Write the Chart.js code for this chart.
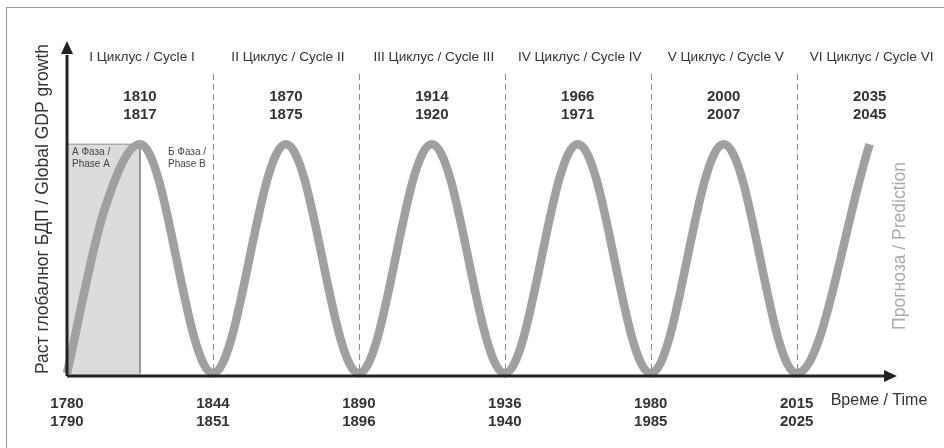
<!DOCTYPE html>
<html>
<head>
<meta charset="utf-8">
<script src="https://cdn.jsdelivr.net/npm/chart.js@4"></script>
<style>
  html, body { margin: 0; padding: 0; background: #fff; }
  #wrap { width: 944px; height: 448px; position: relative; }
</style>
</head>
<body>
<div id="wrap"><canvas id="kw-chart"></canvas></div>
<script>
// cycles in "cycle units": trough n at x = n, peak at x = n + 0.5
const cycleTitles = ['I Циклус / Cycle I', 'II Циклус / Cycle II', 'III Циклус / Cycle III',
    'IV Циклус / Cycle IV', 'V Циклус / Cycle V', 'VI Циклус / Cycle VI'];
const peakYears = [['1810', '1817'], ['1870', '1875'], ['1914', '1920'],
    ['1966', '1971'], ['2000', '2007'], ['2035', '2045']];
const troughYears = [['1780', '1790'], ['1844', '1851'], ['1890', '1896'],
    ['1936', '1940'], ['1980', '1985'], ['2015', '2025']];
const cycleBounds = [1, 2, 3, 4, 5];

// main wave, peaks and troughs (first rise is drawn by the phase A curve)
const waveX = [0, 0.5, 1, 1.5, 2, 2.5, 3, 3.5, 4, 4.5, 5, 5.5];
const waveY = [0, 1, 0, 1, 0, 1, 0, 1, 0, 1, 0, 1];
// first rise (phase A of cycle I), steeper start
const riseX = [0, 0.25, 0.5, 1];
const riseY = [0, 0.7, 1, 0];

const phaseBoxX = [0, 0.5, 0.5];
const phaseBoxY = [1, 1, 0];

const axisTitleY = 'Раст глобалног БДП / Global GDP growth';
const axisTitleX = 'Време / Time';
const predictionLabel = 'Прогноза / Prediction';
const phaseA = ['А Фаза /', 'Phase A'];
const phaseB = ['Б Фаза /', 'Phase B'];

const FONT = '"Liberation Sans", Arial, sans-serif';
const WAVE_COLOR = '#a0a0a0';
const HIDDEN = 'rgba(0,0,0,0)';

const toPoints = function (xs, ys) {
    return xs.map((x, i) => ({x: x, y: ys[i]}));
};

const decorations = {
    id: 'decorations',
    beforeDraw(chart) {
        const c = chart.ctx;
        c.save();
        c.fillStyle = '#fff';
        c.fillRect(0, 0, chart.width, chart.height);
        // frame
        c.strokeStyle = '#9a9a9a';
        c.lineWidth = 1;
        c.beginPath();
        c.moveTo(6.5, chart.height);
        c.lineTo(6.5, 7.5);
        c.lineTo(chart.width, 7.5);
        c.stroke();
        c.restore();
    },
    afterDatasetsDraw(chart) {
        const c = chart.ctx;
        const xs = chart.scales.x;
        const ys = chart.scales.y;
        const area = chart.chartArea;
        const base = area.bottom;

        c.save();
        // dashed cycle boundaries
        c.strokeStyle = '#8a8a8a';
        c.lineWidth = 1;
        c.setLineDash([6, 4]);
        cycleBounds.forEach(b => {
            const px = Math.round(xs.getPixelForValue(b)) + 0.5;
            c.beginPath();
            c.moveTo(px, 74);
            c.lineTo(px, base);
            c.stroke();
        });
        c.setLineDash([]);

        // axes
        c.strokeStyle = '#222';
        c.fillStyle = '#222';
        c.lineWidth = 3;
        c.beginPath();
        c.moveTo(area.left, base);
        c.lineTo(area.left, area.top + 10);
        c.moveTo(area.left, base);
        c.lineTo(area.right - 8, base);
        c.stroke();
        c.beginPath();
        c.moveTo(area.left, area.top - 4);
        c.lineTo(area.left - 6, area.top + 9);
        c.lineTo(area.left + 6, area.top + 9);
        c.closePath();
        c.fill();
        c.beginPath();
        c.moveTo(area.right + 4, base);
        c.lineTo(area.right - 9, base - 6);
        c.lineTo(area.right - 9, base + 6);
        c.closePath();
        c.fill();

        c.textAlign = 'center';
        c.textBaseline = 'middle';
        c.fillStyle = '#333';

        // cycle titles and peak years
        cycleTitles.forEach((t, i) => {
            const px = xs.getPixelForValue(i + 0.5);
            c.font = '13.6px ' + FONT;
            c.fillText(t, px + 2, 57);
            c.font = 'bold 15px ' + FONT;
            c.fillText(peakYears[i][0], px, 97);
            c.fillText(peakYears[i][1], px, 115);
        });

        // trough years
        c.font = 'bold 15px ' + FONT;
        troughYears.forEach((y, i) => {
            const px = xs.getPixelForValue(i);
            c.fillText(y[0], px, 404);
            c.fillText(y[1], px, 422);
        });

        c.font = '16px ' + FONT;
        c.fillText(axisTitleX, 879, 401);

        // phase labels
        c.textAlign = 'left';
        c.font = '10px ' + FONT;
        c.fillStyle = '#444';
        const top = ys.getPixelForValue(1);
        c.fillText(phaseA[0], area.left + 5, top + 8);
        c.fillText(phaseA[1], area.left + 5, top + 20);
        c.fillText(phaseB[0], xs.getPixelForValue(0.5) + 28, top + 8);
        c.fillText(phaseB[1], xs.getPixelForValue(0.5) + 28, top + 20);

        // rotated titles
        c.textAlign = 'center';
        c.save();
        c.translate(43, 209);
        c.rotate(-Math.PI / 2);
        c.font = '17.5px ' + FONT;
        c.fillStyle = '#333';
        c.fillText(axisTitleY, 0, 0);
        c.restore();

        c.save();
        c.translate(900, 246);
        c.rotate(-Math.PI / 2);
        c.font = '17.5px ' + FONT;
        c.fillStyle = '#aaa';
        c.fillText(predictionLabel, 0, 0);
        c.restore();

        c.restore();
    }
};

const chart = new Chart(document.getElementById('kw-chart'), {
    type: 'line',
    data: {
        datasets: [
            {
                data: toPoints(waveX, waveY),
                borderColor: WAVE_COLOR,
                borderWidth: 8.5,
                borderCapStyle: 'butt',
                tension: 0.36,
                pointRadius: 0,
                fill: false,
                clip: false,
                segment: {
                    borderColor: ctx => ctx.p0DataIndex === 0 ? HIDDEN : undefined
                }
            },
            {
                data: toPoints(riseX, riseY),
                borderColor: WAVE_COLOR,
                borderWidth: 8.5,
                borderCapStyle: 'butt',
                cubicInterpolationMode: 'monotone',
                pointRadius: 0,
                fill: false,
                clip: false,
                segment: {
                    borderColor: ctx => ctx.p0DataIndex >= 2 ? HIDDEN : undefined
                }
            },
            {
                data: toPoints(phaseBoxX, phaseBoxY),
                borderColor: '#8a8a8a',
                borderWidth: 1,
                backgroundColor: '#dcdcde',
                pointRadius: 0,
                fill: 'start',
                tension: 0
            }
        ]
    },
    options: {
        responsive: true,
        maintainAspectRatio: false,
        animation: false,
        layout: {
            padding: {left: 67, right: 51, top: 45, bottom: 72}
        },
        scales: {
            x: {type: 'linear', min: 0, max: 5.66, display: false},
            y: {type: 'linear', min: -0.012, max: 1.433, display: false}
        },
        plugins: {
            legend: {display: false},
            tooltip: {enabled: false},
            title: {display: false}
        }
    },
    plugins: [decorations]
});
</script>
</body>
</html>
